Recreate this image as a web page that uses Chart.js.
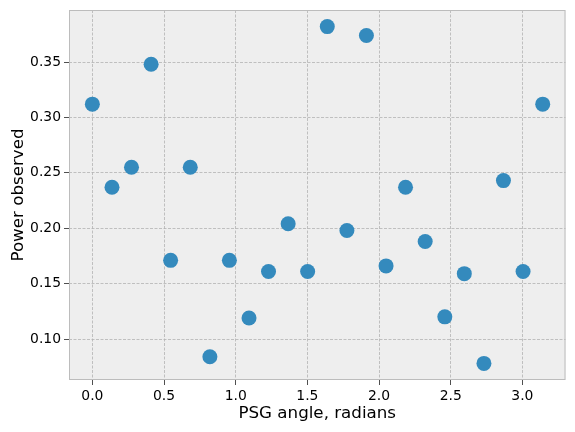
<!DOCTYPE html>
<html>
<head>
<meta charset="utf-8">
<script src="https://cdn.jsdelivr.net/npm/chart.js@4.4.1/dist/chart.umd.min.js"></script>
<style>
  body { margin: 0; background: #fff; }
  canvas { display: block; }
</style>
</head>
<body>
<canvas id="scatter" width="575" height="432"></canvas>
<script>
// PSG angle (radians) and measured power
const angles = [0.000, 0.137, 0.273, 0.410, 0.546, 0.683, 0.820, 0.956, 1.093, 1.229, 1.366, 1.502,
                1.639, 1.776, 1.912, 2.049, 2.185, 2.322, 2.459, 2.595, 2.732, 2.868, 3.005, 3.142];
const power = [0.312, 0.237, 0.255, 0.348, 0.171, 0.255, 0.084, 0.171, 0.119, 0.161, 0.204, 0.161,
               0.382, 0.198, 0.374, 0.166, 0.237, 0.188, 0.120, 0.159, 0.078, 0.243, 0.161, 0.312];
const xTicks = [0.0, 0.5, 1.0, 1.5, 2.0, 2.5, 3.0];
const yTicks = [0.10, 0.15, 0.20, 0.25, 0.30, 0.35];

const FONT = "'DejaVu Sans', sans-serif";

// axes background + full frame, like matplotlib bmh
const frame = {
  id: 'frame',
  beforeDraw(chart) {
    const a = chart.chartArea, ctx = chart.ctx;
    ctx.save();
    ctx.fillStyle = '#eeeeee';
    ctx.fillRect(a.left, a.top, a.right - a.left, a.bottom - a.top);
    ctx.restore();
  },
  afterDatasetsDraw(chart) {
    const a = chart.chartArea, ctx = chart.ctx;
    ctx.save();
    ctx.strokeStyle = '#bcbcbc';
    ctx.lineWidth = 1;
    ctx.strokeRect(a.left + 0.5, a.top + 0.5, a.right - a.left - 1, a.bottom - a.top - 1);
    ctx.restore();
  }
};

const noPad = s => { s.paddingTop = 0; s.paddingBottom = 0; s.paddingLeft = 0; s.paddingRight = 0; };

const data = {
  datasets: [{
    data: angles.map((x, i) => ({ x: x, y: power[i] })),
    backgroundColor: '#348ABD',
    borderWidth: 0,
    pointRadius: 7.5,
    pointHoverRadius: 7.5
  }]
};

new Chart(document.getElementById('scatter'), {
  type: 'scatter',
  data: data,
  plugins: [frame],
  options: {
    responsive: false,
    animation: false,
    layout: { padding: { top: 10, right: 9.5, left: 0, bottom: 0 } },
    plugins: { legend: { display: false }, tooltip: { enabled: false } },
    scales: {
      x: {
        type: 'linear',
        min: -0.163,
        max: 3.301,
        afterBuildTicks: s => { s.ticks = xTicks.map(v => ({ value: v })); },
        afterFit: s => { s.height = 52; noPad(s); },
        grid: { color: '#b2b2b2', lineWidth: 0.8, tickColor: '#222', tickLength: 5, tickBorderDash: [] },
        border: { display: false, dash: [3, 1.5] },
        ticks: { color: '#000', font: { family: FONT, size: 13.9 }, padding: 3, maxRotation: 0,
                 callback: v => v.toFixed(1) },
        title: { display: true, text: 'PSG angle, radians', color: '#000',
                 font: { family: FONT, size: 16.7 }, padding: { top: 0, bottom: 8 } }
      },
      y: {
        type: 'linear',
        min: 0.063,
        max: 0.397,
        afterBuildTicks: s => { s.ticks = yTicks.map(v => ({ value: v })); },
        afterFit: s => { s.width = 69; noPad(s); },
        grid: { color: '#b2b2b2', lineWidth: 0.8, tickColor: '#222', tickLength: 5, tickBorderDash: [] },
        border: { display: false, dash: [3, 1.5] },
        ticks: { color: '#000', font: { family: FONT, size: 13.9 }, padding: 3,
                 callback: v => v.toFixed(2) },
        title: { display: true, text: 'Power observed', color: '#000',
                 font: { family: FONT, size: 16.7 }, padding: { top: 9, bottom: 0 } }
      }
    }
  }
});
</script>
</body>
</html>
